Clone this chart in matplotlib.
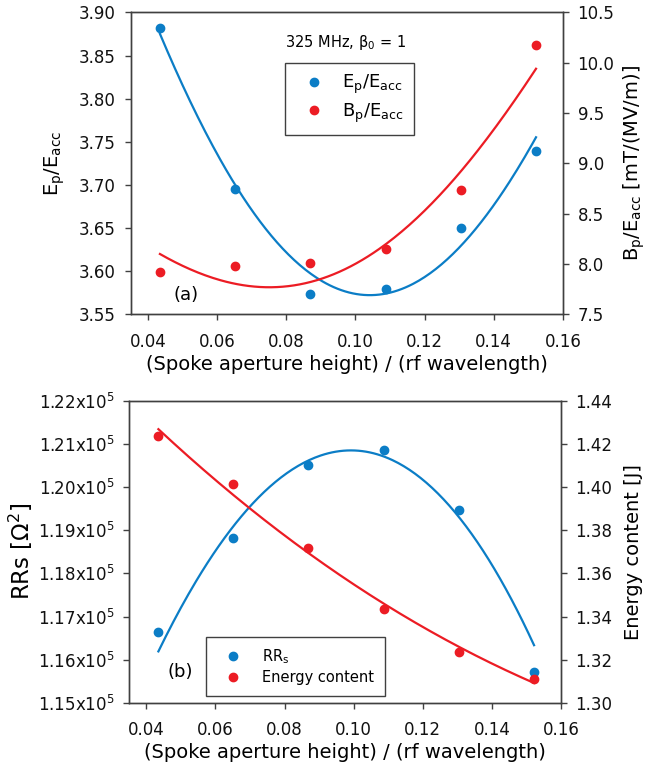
import numpy as np
import matplotlib
matplotlib.use("Agg")
import matplotlib.pyplot as plt
from matplotlib.ticker import FuncFormatter

plt.rcParams['font.family'] = ['DejaVu Sans']
plt.rcParams['mathtext.fontset'] = 'dejavusans'
plt.rcParams['mathtext.default'] = 'regular'

# Spoke aperture height normalised to the rf wavelength (325 MHz)
aperture_ratio = [0.0435, 0.0652, 0.0869, 0.1087, 0.1304, 0.1522]

# Panel (a): simulated peak-field ratios
ep_eacc = [3.8815, 3.696, 3.5735, 3.580, 3.650, 3.740]
bp_eacc = [7.926, 7.982, 8.015, 8.150, 8.741, 10.180]

# Panel (b): geometry factor product and stored energy
rrs = [1.1665e5, 1.1881e5, 1.2050e5, 1.2085e5, 1.1946e5, 1.1572e5]
energy = [1.4238, 1.4012, 1.3716, 1.3437, 1.3237, 1.3109]

# Trend curves, sampled at the data points and half-way between
curve_x = [0.0435, 0.0544, 0.0652, 0.0761, 0.0869, 0.0978,
           0.1087, 0.1196, 0.1304, 0.1413, 0.1522]
ep_fit = [3.873, 3.786, 3.696, 3.638, 3.598, 3.577,
          3.5735, 3.596, 3.626, 3.684, 3.756]
bp_fit = [8.097, 7.926, 7.810, 7.761, 7.810, 7.975,
          8.206, 8.520, 8.899, 9.411, 9.939]
rrs_fit = [1.1624e5, 1.1769e5, 1.1915e5, 1.2011e5, 1.2061e5, 1.2077e5,
           1.2068e5, 1.2023e5, 1.1934e5, 1.1800e5, 1.1634e5]
energy_fit = [1.4265, 1.4115, 1.3961, 1.3822, 1.3692, 1.3576,
              1.3461, 1.3353, 1.3260, 1.3176, 1.3091]

BLUE = '#0b7dc6'
RED = '#ec1c24'
SPINE = '#404040'
XTICKS = [0.04, 0.06, 0.08, 0.10, 0.12, 0.14, 0.16]
XLABEL = '(Spoke aperture height) / (rf wavelength)'

fig = plt.figure(figsize=(6.49, 7.71), dpi=100)


def smooth(ax, ys, deg, color):
    """Draw a smooth polynomial trend through the sampled curve values."""
    cx = np.array(curve_x)
    coef = np.polyfit(cx, np.array(ys), deg)
    xx = np.linspace(cx.min(), cx.max(), 200)
    ax.plot(xx, np.polyval(coef, xx), color=color, lw=1.6, zorder=2)


def style(ax):
    for s in ax.spines.values():
        s.set_color(SPINE)
        s.set_linewidth(1.0)
    ax.tick_params(axis='y', direction='out', length=4, width=1.0, color=SPINE,
                   labelsize=12, pad=6.5, labelcolor='#111111')
    ax.tick_params(axis='x', direction='out', length=4, width=1.0, color=SPINE,
                   labelsize=12, pad=9, labelcolor='#111111')


def fmt(decimals):
    return FuncFormatter(lambda v, p: f"{v:.{decimals}f}")


# ---------------- (a) ----------------
ax1 = fig.add_axes([0.2011, 0.5921, 0.6664, 0.3917])
ax2 = ax1.twinx()
ax1.set_xlim(0.035, 0.16)
ax1.set_ylim(3.55, 3.90)
ax2.set_ylim(7.5, 10.5)
ax1.set_xticks(XTICKS)
ax1.xaxis.set_major_formatter(fmt(2))
ax1.set_yticks(np.arange(3.55, 3.901, 0.05))
ax1.yaxis.set_major_formatter(fmt(2))
ax2.set_yticks(np.arange(7.5, 10.51, 0.5))
ax2.yaxis.set_major_formatter(fmt(1))
style(ax1)
style(ax2)

smooth(ax1, ep_fit, 4, BLUE)
smooth(ax2, bp_fit, 4, RED)
h1, = ax1.plot(aperture_ratio, ep_eacc, 'o', color=BLUE, ms=6, zorder=3)
h2, = ax2.plot(aperture_ratio, bp_eacc, 'o', color=RED, ms=6, zorder=3)

ax1.set_xlabel(XLABEL, fontsize=14, labelpad=3)
ax1.set_ylabel('E$_\\mathregular{p}$/E$_\\mathregular{acc}$', fontsize=14)
ax1.yaxis.set_label_coords(-0.147, 0.5)
ax2.set_ylabel('B$_\\mathregular{p}$/E$_\\mathregular{acc}$ [mT/(MV/m)]', fontsize=14)
ax2.yaxis.set_label_coords(1.135, 0.5)

ax1.text(0.3564, 0.901, '325 MHz, β$_\\mathregular{0}$ = 1', transform=ax1.transAxes,
         fontsize=10.5, va='center', ha='left')
ax1.text(0.099, 0.066, '(a)', transform=ax1.transAxes, fontsize=13, va='center', ha='left')

leg = ax2.legend([h1, h2], ['E$_\\mathregular{p}$/E$_\\mathregular{acc}$',
                            'B$_\\mathregular{p}$/E$_\\mathregular{acc}$'],
                 loc='upper left', bbox_to_anchor=(0.3564, 0.8327), fontsize=13,
                 frameon=True, fancybox=False, framealpha=1, edgecolor=SPINE,
                 borderpad=0.55, handlelength=2.2, handletextpad=0.45,
                 labelspacing=0.3, borderaxespad=0)
leg.get_frame().set_linewidth(1.0)

# ---------------- (b) ----------------
ax3 = fig.add_axes([0.1988, 0.0882, 0.6656, 0.3923])
ax4 = ax3.twinx()
ax3.set_xlim(0.035, 0.16)
ax3.set_ylim(1.15e5, 1.22e5)
ax4.set_ylim(1.30, 1.44)
ax3.set_xticks(XTICKS)
ax3.xaxis.set_major_formatter(fmt(2))
ax3.set_yticks(np.arange(1.15e5, 1.2201e5, 0.01e5))
ax3.yaxis.set_major_formatter(
    FuncFormatter(lambda v, p: f"{v / 1e5:.2f}x10$^\\mathregular{{5}}$"))
ax4.set_yticks(np.arange(1.30, 1.4401, 0.02))
ax4.yaxis.set_major_formatter(fmt(2))
style(ax3)
style(ax4)

smooth(ax3, rrs_fit, 4, BLUE)
smooth(ax4, energy_fit, 3, RED)
h3, = ax3.plot(aperture_ratio, rrs, 'o', color=BLUE, ms=6, zorder=3)
h4, = ax4.plot(aperture_ratio, energy, 'o', color=RED, ms=6, zorder=3)

ax3.set_xlabel(XLABEL, fontsize=14, labelpad=3)
ax3.set_ylabel('RRs [Ω$^\\mathregular{2}$]', fontsize=16.5)
ax3.yaxis.set_label_coords(-0.217, 0.5)
ax4.set_ylabel('Energy content [J]', fontsize=14)
ax4.yaxis.set_label_coords(1.146, 0.5)

ax3.text(0.088, 0.103, '(b)', transform=ax3.transAxes, fontsize=13, va='center', ha='left')

leg2 = ax4.legend([h3, h4], ['RR$_\\mathregular{s}$', 'Energy content'],
                  loc='upper left', bbox_to_anchor=(0.1777, 0.2196), fontsize=10.5,
                  frameon=True, fancybox=False, framealpha=1, edgecolor=SPINE,
                  borderpad=0.75, handlelength=2.29, handletextpad=0.8,
                  labelspacing=0.25, borderaxespad=0)
leg2.get_frame().set_linewidth(1.0)

fig.savefig('out.png', dpi=100)
